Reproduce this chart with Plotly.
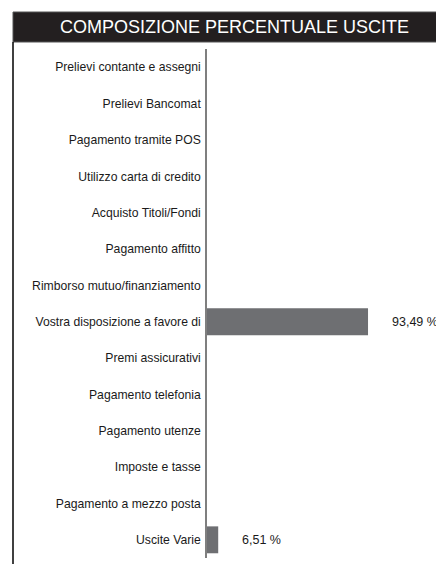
import plotly.graph_objects as go

categories = [
    "Prelievi contante e assegni",
    "Prelievi Bancomat",
    "Pagamento tramite POS",
    "Utilizzo carta di credito",
    "Acquisto Titoli/Fondi",
    "Pagamento affitto",
    "Rimborso mutuo/finanziamento",
    "Vostra disposizione a favore di",
    "Premi assicurativi",
    "Pagamento telefonia",
    "Pagamento utenze",
    "Imposte e tasse",
    "Pagamento a mezzo posta",
    "Uscite Varie",
]
values = [0, 0, 0, 0, 0, 0, 0, 93.49, 0, 0, 0, 0, 0, 6.51]
title_text = "COMPOSIZIONE PERCENTUALE USCITE"

FONT = "Liberation Sans, Arial, Helvetica, sans-serif"

# figure is drawn with the page's 8px body offset in mind
W, H = 436, 556
ML, MT, MB, MR = 199, 41, 6, 0
PW, PH = W - ML - MR, H - MT - MB


def px_x(x):
    return (x - ML) / PW


def px_y(y):
    return (H - MB - y) / PH


fig = go.Figure()
fig.add_trace(go.Bar(
    y=categories, x=values, orientation="h",
    marker=dict(color="#6e6f72", line=dict(width=0)),
    width=0.74,
    hoverinfo="skip",
))

for c, v in zip(categories, values):
    if v > 0:
        fig.add_annotation(
            x=v, y=c, xref="x", yref="y",
            text=("%.2f" % v).replace(".", ",") + " %",
            showarrow=False, xanchor="left", xshift=22,
            font=dict(family=FONT, size=12.5, color="#1a1a1a"),
        )

# Title bar and left border
fig.add_shape(type="rect", xref="paper", yref="paper",
              x0=px_x(5), x1=px_x(W + 5), y0=px_y(34), y1=px_y(4),
              fillcolor="#231f20", line=dict(color="#555555", width=1), layer="above")
fig.add_shape(type="line", xref="paper", yref="paper",
              x0=px_x(5), x1=px_x(5), y0=px_y(H + 5), y1=px_y(34),
              line=dict(color="#000000", width=1.5))
fig.add_annotation(
    x=px_x(226), y=px_y(19.5), xref="paper", yref="paper",
    text=title_text, showarrow=False, xanchor="center", yanchor="middle",
    font=dict(family=FONT, size=18, color="#ffffff"),
)

fig.update_layout(
    width=W, height=H,
    margin=dict(l=ML, r=MR, t=MT, b=MB),
    paper_bgcolor="#ffffff", plot_bgcolor="#ffffff",
    showlegend=False,
    xaxis=dict(range=[0, 137.6], visible=False, fixedrange=True),
    yaxis=dict(
        categoryorder="array", categoryarray=categories,
        autorange="reversed",
        showline=True, linecolor="#7f7f7f", linewidth=1.5,
        showgrid=False, zeroline=False, ticks="",
        ticklabelstandoff=2,
        tickfont=dict(family=FONT, size=12.2, color="#1a1a1a"),
    ),
)

fig.write_html("out.html")
